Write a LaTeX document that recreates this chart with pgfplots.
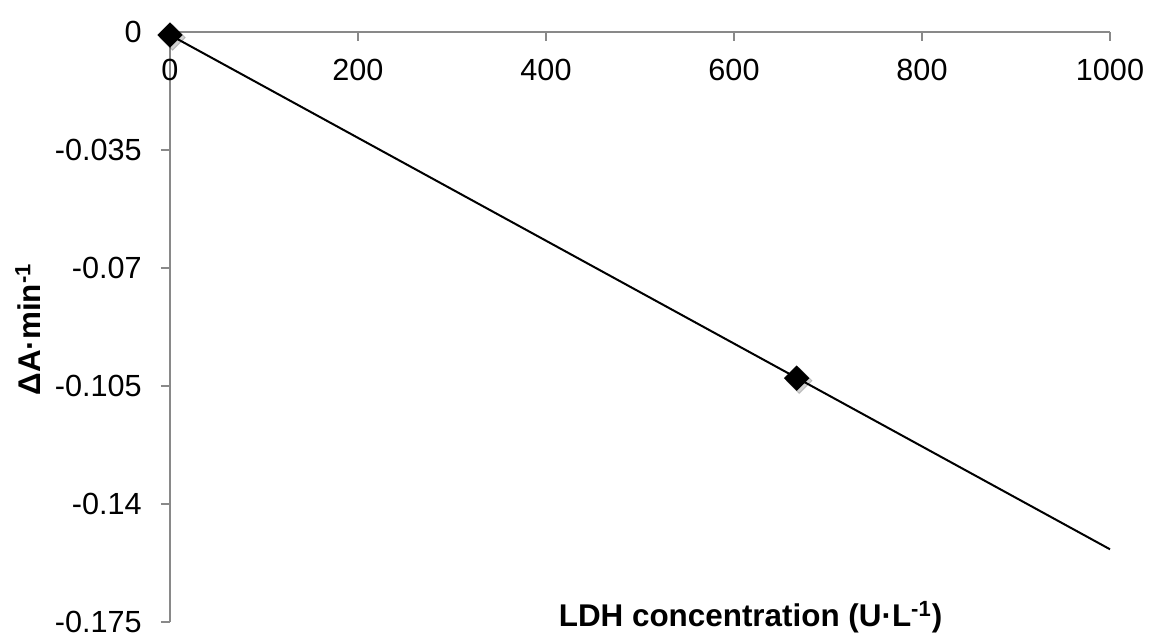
\documentclass[border=0pt]{standalone}
\usepackage{fontspec}
\setmainfont{Liberation Sans}
\usepackage{pgfplots}
\pgfplotsset{compat=1.18}
\usetikzlibrary{calc}
\definecolor{axgray}{RGB}{137,137,137}
\begin{document}
\begin{tikzpicture}
\begin{axis}[name=ax, scale only axis, width=470bp, height=294.7bp,
  xmin=0, xmax=1000, ymin=-0.175, ymax=0,
  axis x line*=top, axis y line*=left,
  axis line style={axgray, line width=0.9bp, -},
  xtick={0,200,400,600,800,1000}, xticklabels={0,200,400,600,800,1000},
  ytick={-0.175,-0.14,-0.105,-0.07,-0.035,0},
  yticklabels={-0.175,-0.14,-0.105,-0.07,-0.035,0},
  tick align=inside, major tick length=4.5bp,
  every tick/.append style={axgray, line width=0.9bp},
  every major y tick/.append style={xshift=-4.5bp},
  tick label style={font=\fontsize{15.3bp}{18bp}\selectfont, text=black},
  yticklabel style={inner sep=0pt, anchor=east, xshift=-14bp},
  xticklabel style={inner sep=0pt, anchor=north, yshift=-13bp},
  label style={font=\fontsize{15.7bp}{18bp}\selectfont\bfseries},
  xlabel={LDH concentration (U·L\textsuperscript{-1})},
  ylabel={ΔA·min\textsuperscript{-1}},
  xlabel style={at={(axis description cs:0.6176,0)}, anchor=base, inner sep=0pt, yshift=-2.5bp},
  ylabel style={at={(axis description cs:-0.151,0.496)}, anchor=center, inner sep=0pt},
  clip=false,
]
\addplot[black, line width=1bp] coordinates {(0,-0.0008) (1000,-0.1535)};
\addplot[only marks, mark=square*, mark size=4.5bp, opacity=0.18,
  mark options={rotate=45, yshift=-1.8bp, fill=black, draw=none}]
  coordinates {(0,-0.0008) (666.7,-0.1027)};
\addplot[only marks, mark=square*, mark size=4.3bp,
  mark options={rotate=45, fill=black, draw=black, line width=0.4bp}]
  coordinates {(0,-0.0008) (666.7,-0.1027)};
\end{axis}
\pgfresetboundingbox
\path ($(ax.south west)+(-85bp,-7.6bp)$) rectangle ($(ax.north east)+(20bp,16.15bp)$);
\end{tikzpicture}
\end{document}
